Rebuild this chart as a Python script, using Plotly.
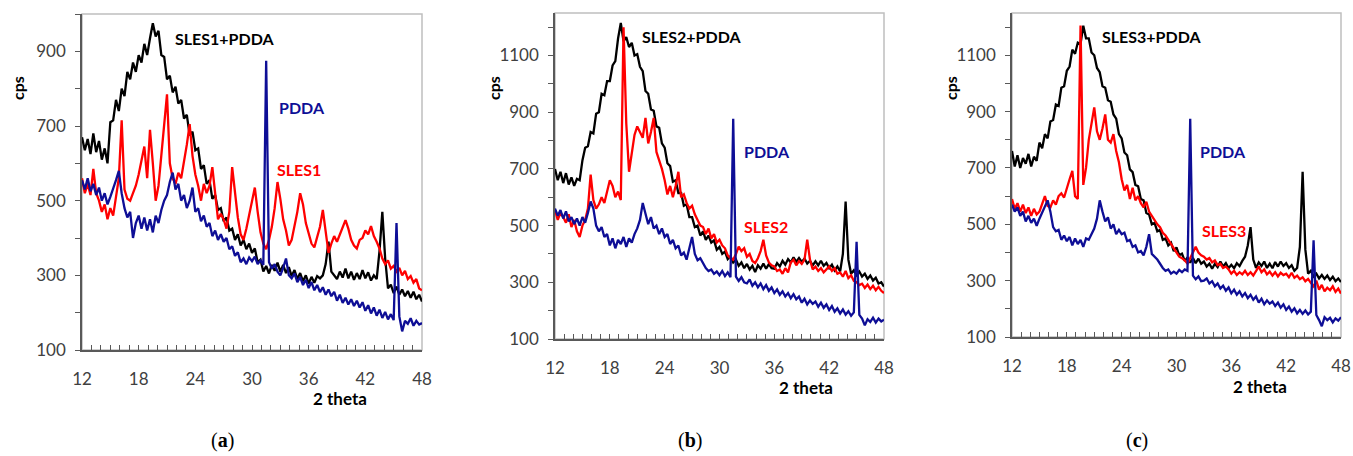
import numpy as np
import plotly.graph_objects as go

# 2-theta sampling grid (12..48 deg, step 0.3)
THETA = np.round(np.linspace(12, 48, 121), 1)
X_TICKS = [12, 18, 24, 30, 36, 42, 48]

# ---------------- panel (a) ----------------
A_BLACK = [
    670, 635, 665, 625, 680, 630, 660, 610, 640, 600,
    710, 715, 770, 740, 800, 780, 845, 825, 870, 845,
    890, 870, 920, 890, 935, 975, 940, 955, 890, 885,
    825, 835, 790, 805, 760, 770, 720, 730, 675, 685,
    635, 640, 585, 595, 545, 555, 505, 515, 475, 480,
    445, 455, 420, 425, 395, 410, 380, 395, 370, 385,
    360, 372, 335, 342, 310, 325, 305, 328, 312, 334,
    310, 328, 306, 322, 298, 314, 290, 306, 284, 300,
    278, 296, 280, 298, 292, 300, 330, 390, 310, 300,
    290, 310, 294, 318, 292, 310, 288, 306, 290, 314,
    292, 308, 286, 300, 290, 365, 470, 345, 265, 275,
    252, 270, 248, 262, 244, 258, 240, 256, 236, 248,
    230,
]
A_RED = [
    560, 520, 545, 515, 585, 520, 500, 470, 490, 450,
    480, 460, 510, 560, 715, 530, 505, 500, 520, 540,
    570, 610, 645, 560, 690, 600, 500, 540, 620, 720,
    785, 600, 560, 545, 575, 560, 600, 650, 705, 620,
    570, 540, 500, 545, 520, 540, 590, 510, 450, 465,
    450, 425, 470, 590, 520, 455, 410, 395, 425, 460,
    500, 535, 470, 415, 385, 370, 395, 430, 480, 550,
    505, 450, 420, 380, 395, 430, 470, 520, 490, 440,
    410, 385, 375, 400, 430, 475, 420, 360, 385, 405,
    390, 410, 425, 448, 425, 395, 380, 372, 395, 400,
    420, 410, 432, 405, 390, 372, 345, 330, 340, 318,
    325, 310, 320, 300, 312, 290, 298, 280, 290, 265,
    260,
]
A_BLUE = [
    555, 530, 560, 525, 545, 515, 535, 500, 520, 490,
    510, 530, 555, 580, 520, 480, 455, 470, 400, 440,
    460, 425, 455, 420, 450, 415, 460, 440, 475, 500,
    515, 550, 575, 530, 545, 500, 515, 480, 500, 535,
    470, 480, 445, 460, 430, 440, 405, 420, 395, 410,
    390, 400, 370, 378, 352, 362, 335, 345, 330, 348,
    338, 350, 330, 340, 328, 875, 335, 318, 330, 310,
    300, 320, 345, 300, 292, 305, 282, 295, 274, 288,
    266, 282, 260, 274, 255, 268, 248, 262, 244, 256,
    232, 248, 226, 240, 222, 236, 218, 232, 214, 228,
    205, 220, 198, 214, 192, 208, 186, 202, 182, 196,
    180, 440, 190, 150, 178, 170, 185, 165, 178, 168,
    172,
]

# ---------------- panel (b) ----------------
B_BLACK = [
    700, 660, 690, 650, 685, 645, 670, 640, 665, 660,
    730, 775, 780, 830, 825, 895, 900, 965, 960, 1010,
    1010, 1065, 1080, 1160, 1215, 1150, 1165, 1130, 1145, 1100,
    1105, 1060, 1045, 975, 965, 910, 905, 850, 845, 790,
    775, 720, 710, 655, 660, 615, 615, 570, 575, 530,
    530, 495, 500, 465, 480, 450, 465, 440, 448, 415,
    425, 400, 408, 382, 392, 370, 380, 358, 370, 350,
    365, 345, 358, 336, 360, 348, 366, 348, 364, 350,
    348, 368, 356, 376, 362, 382, 370, 388, 372, 386,
    372, 384, 366, 376, 360, 374, 360, 376, 358, 368,
    350, 362, 342, 356, 338, 400, 585, 380, 330, 342,
    325, 338, 320, 330, 312, 324, 306, 316, 296, 300,
    285,
]
B_RED = [
    555, 520, 545, 530, 510, 540, 495, 520, 480, 460,
    500, 520, 560, 680, 590, 560, 575, 600, 580, 620,
    660, 640, 600, 620, 590, 1200, 860, 690, 760, 820,
    850, 830, 810, 880, 790, 830, 880, 760, 730, 700,
    660, 610, 640, 600, 640, 690, 600, 610, 580, 560,
    570, 540, 520, 500, 495, 470, 490, 455, 470, 440,
    450, 430, 420, 395, 385, 380, 400, 426, 410, 420,
    390, 400, 375, 368, 385, 410, 450, 395, 370, 360,
    356, 340, 345, 330, 350, 335, 370, 380, 360, 375,
    365, 380, 450, 380, 345, 355, 340, 350, 335, 345,
    356, 340, 350, 330, 335, 320, 340, 315, 325, 305,
    300, 290, 295, 280, 292, 276, 288, 272, 284, 270,
    262,
]
B_BLUE = [
    560, 535, 555, 525, 550, 515, 530, 505, 525, 500,
    530, 510, 545, 585, 560, 500, 480, 495, 460, 470,
    430, 455, 420, 450, 435, 460, 425, 455, 440, 470,
    490, 520, 580, 540, 505, 530, 490, 500, 470, 490,
    460, 470, 435, 450, 420, 430, 395, 405, 380, 420,
    460, 400, 378, 385, 365, 350, 340, 345, 330, 338,
    325, 340, 322, 335, 318, 877, 320, 305, 318, 300,
    296, 310, 288, 300, 282, 296, 276, 290, 270, 282,
    262, 275, 256, 268, 250, 262, 244, 258, 240, 250,
    228, 242, 222, 236, 224, 232, 214, 228, 210, 222,
    202, 216, 196, 208, 190, 204, 186, 198, 182, 194,
    443, 185, 172, 148, 170, 160, 175, 158, 172, 162,
    168,
]

# ---------------- panel (c) ----------------
C_BLACK = [
    760, 705, 745, 700, 735, 715, 750, 705, 740, 725,
    790, 770, 820, 805, 865, 870, 925, 920, 985, 990,
    1045, 1060, 1120, 1105, 1145, 1140, 1205, 1160, 1160, 1110,
    1100, 1055, 1040, 990, 985, 940, 935, 890, 875, 820,
    805, 755, 745, 695, 685, 640, 635, 590, 585, 540,
    535, 500, 505, 475, 480, 445, 450, 425, 435, 405,
    418, 390, 396, 370, 382, 364, 380, 362, 378, 360,
    368, 350, 360, 342, 360, 348, 368, 350, 362, 344,
    356, 344, 362, 352, 370, 385, 425, 490, 375, 345,
    365, 352, 368, 345, 360, 344, 366, 350, 368, 352,
    362, 345, 355, 335, 345, 420, 686, 410, 325, 335,
    315, 325, 308, 320, 306, 318, 302, 314, 298, 308,
    295,
]
C_RED = [
    590, 555, 575, 545, 570, 540, 560, 530, 555, 535,
    545, 575, 600, 565, 560, 585, 570, 600, 610, 595,
    630, 660, 690, 600, 590, 1206, 640, 700, 800, 860,
    915, 830, 800, 840, 890, 800, 790, 820, 760, 720,
    660, 620, 640, 590, 630, 585, 600, 575, 560, 580,
    545, 530, 515, 500, 490, 470, 460, 445, 430, 415,
    400, 385, 380, 372, 360, 380, 400, 420, 400, 390,
    385, 375, 380, 365, 372, 355, 360, 345, 350, 340,
    325, 335, 320, 330, 322, 335, 320, 330, 318, 335,
    350, 330, 340, 322, 332, 318, 330, 315, 328, 320,
    325, 312, 328, 310, 318, 305, 312, 298, 306, 292,
    280, 300, 268, 285, 262, 275, 266, 280, 260, 272,
    254,
]
C_BLUE = [
    570, 545, 560, 530, 545, 510, 530, 505, 520, 495,
    520, 540, 560, 585, 545, 490, 475, 480, 445, 460,
    440, 455, 425, 450, 430, 445, 420, 450, 445, 465,
    485, 520, 585, 545, 510, 525, 485, 500, 465, 480,
    465, 470, 440, 445, 420, 425, 400, 405, 390, 420,
    465, 395, 385, 375, 360, 345, 335, 340, 325, 332,
    325, 338, 330, 340, 335, 875, 318, 305, 315, 298,
    300, 308, 290, 298, 280, 290, 272, 282, 264, 276,
    255, 268, 250, 262, 244, 256, 238, 250, 232, 244,
    222, 236, 216, 230, 218, 226, 210, 222, 204, 216,
    196, 208, 190, 202, 184, 196, 182, 194, 180, 190,
    443, 178, 160, 138, 170, 160, 168, 152, 166, 158,
    170,
]

for nm, arr in [("A_BLACK", A_BLACK), ("A_RED", A_RED), ("A_BLUE", A_BLUE),
                ("B_BLACK", B_BLACK), ("B_RED", B_RED), ("B_BLUE", B_BLUE),
                ("C_BLACK", C_BLACK), ("C_RED", C_RED), ("C_BLUE", C_BLUE)]:
    assert len(arr) == len(THETA), (nm, len(arr))

W, H = 1353, 456
BLACK, RED, BLUE = "#000000", "#ff0000", "#0e0e96"
FONT = "Lato"


def fx(p):
    return p / W


def fy(p):
    return 1 - p / H


panels = [
    dict(box=(82, 14, 422, 350), yrange=[100, 1000], yticks=[100, 300, 500, 700, 900],
         data=(A_BLACK, A_RED, A_BLUE), names=("SLES1+PDDA", "PDDA", "SLES1"),
         lab=((173, 38), (277, 108), (275, 170)), cps=(18, 88), theta=(340, 398), cap=(222, 440, "a")),
    dict(box=(555, 13, 884, 339), yrange=[100, 1250], yticks=[100, 300, 500, 700, 900, 1100],
         data=(B_BLACK, B_RED, B_BLUE), names=("SLES2+PDDA", "PDDA", "SLES2"),
         lab=((640, 37), (742, 152), (742, 226)), cps=(494, 88), theta=(806, 387), cap=(690, 440, "b")),
    dict(box=(1012, 13, 1341, 337), yrange=[100, 1250], yticks=[100, 300, 500, 700, 900, 1100],
         data=(C_BLACK, C_RED, C_BLUE), names=("SLES3+PDDA", "PDDA", "SLES3"),
         lab=((1100, 36), (1198, 151), (1200, 231)), cps=(951, 88), theta=(1260, 386), cap=(1137, 440, "c")),
]

fig = go.Figure()
layout = dict(
    width=W, height=H, margin=dict(l=0, r=0, t=0, b=0, autoexpand=False),
    paper_bgcolor="white", plot_bgcolor="white", showlegend=False,
    shapes=[], annotations=[],
)

for i, p in enumerate(panels):
    s = "" if i == 0 else str(i + 1)
    x0, y0, x1, y1 = p["box"]
    blk, red, blu = p["data"]
    for arr, col in ((blk, BLACK), (red, RED), (blu, BLUE)):
        fig.add_trace(go.Scatter(x=THETA, y=arr, mode="lines",
                                 line=dict(color=col, width=2.3),
                                 xaxis="x" + s, yaxis="y" + s, hoverinfo="skip"))
    layout["xaxis" + s] = dict(
        domain=[fx(x0), fx(x1)], range=[12, 48], anchor="y" + s, automargin=False,
        tickvals=X_TICKS, ticks="inside", ticklen=5, tickwidth=1, tickcolor="#595959",
        minor=dict(dtick=1, tick0=12, ticks="inside", ticklen=5, tickwidth=1, tickcolor="#595959"),
        showline=True, linecolor="#595959", linewidth=1.5, ticklabeloverflow="allow",
        showgrid=False, zeroline=False, ticklabelstandoff=13,
        tickfont=dict(family=FONT, size=17, color="#404040"),
    )
    layout["yaxis" + s] = dict(
        domain=[fy(y1), fy(y0)], range=p["yrange"], anchor="x" + s, automargin=False,
        tickvals=p["yticks"], ticks="outside", ticklen=5, tickwidth=1, tickcolor="#595959",
        minor=dict(dtick=100, tick0=100, ticks="outside", ticklen=5, tickwidth=1, tickcolor="#595959"),
        showline=True, linecolor="#595959", linewidth=1.5,
        showgrid=False, zeroline=False, ticklabelstandoff=6,
        tickfont=dict(family=FONT, size=17, color="#404040"),
    )
    layout["shapes"].append(dict(type="rect", xref="paper", yref="paper",
                                 x0=fx(x0), x1=fx(x1), y0=fy(y1), y1=fy(y0),
                                 line=dict(color="#bfbfbf", width=1.5), layer="below"))
    cols = (BLACK, BLUE, RED)
    for (lx, ly), txt, col in zip(p["lab"], p["names"], cols):
        layout["annotations"].append(dict(
            xref="paper", yref="paper", x=fx(lx), y=fy(ly), xanchor="left", yanchor="middle",
            text="<b>%s</b>" % txt, showarrow=False,
            font=dict(family=FONT, size=16, color=col)))
    cx, cy = p["cps"]
    layout["annotations"].append(dict(
        xref="paper", yref="paper", x=fx(cx), y=fy(cy), xanchor="center", yanchor="middle",
        text="<b>cps</b>", textangle=-90, showarrow=False,
        font=dict(family=FONT, size=16, color="#000000")))
    tx, ty = p["theta"]
    layout["annotations"].append(dict(
        xref="paper", yref="paper", x=fx(tx), y=fy(ty), xanchor="center", yanchor="middle",
        text="<b>2 theta</b>", showarrow=False,
        font=dict(family=FONT, size=17, color="#000000")))
    kx, ky, letter = p["cap"]
    layout["annotations"].append(dict(
        xref="paper", yref="paper", x=fx(kx), y=fy(ky), xanchor="center", yanchor="middle",
        text="(<b>%s</b>)" % letter, showarrow=False,
        font=dict(family="Liberation Serif", size=20, color="#000000")))

fig.update_layout(**layout)
# remove the default page margin so the 1353x456 figure fills the window exactly
fig.write_html("out.html",
               config={"displayModeBar": False},
               post_script="document.body.style.margin='0';document.body.style.overflow='hidden';")
